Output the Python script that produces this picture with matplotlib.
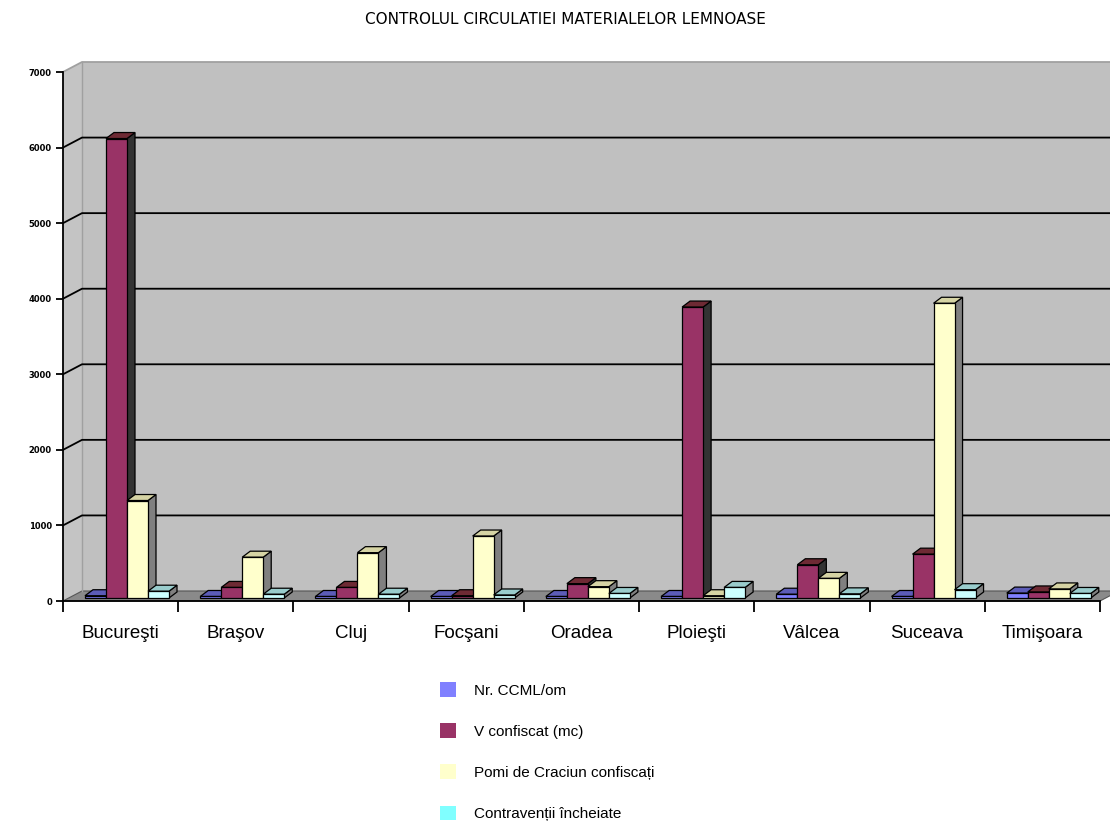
import numpy as np
import matplotlib
matplotlib.use("Agg")
from matplotlib import pyplot as plt
from matplotlib.patches import Patch, Polygon

plt.rcParams['font.family'] = ['Liberation Sans', 'DejaVu Sans']

title = "CONTROLUL CIRCULATIEI MATERIALELOR LEMNOASE"
cats = ["Bucureşti", "Braşov", "Cluj", "Focşani", "Oradea",
        "Ploieşti", "Vâlcea", "Suceava", "Timişoara"]
nr_ccml = [30, 20, 20, 20, 20, 20, 50, 20, 65]
v_confiscat = [6080, 140, 140, 30, 190, 3850, 440, 580, 80]
pomi = [1290, 540, 600, 820, 150, 30, 260, 3900, 120]
contraventii = [90, 50, 50, 40, 60, 140, 55, 110, 60]
labels = ["Nr. CCML/om", "V confiscat (mc)",
          "Pomi de Craciun confiscați", "Contravenții încheiate"]
yticks = [0, 1000, 2000, 3000, 4000, 5000, 6000, 7000]

series = [nr_ccml, v_confiscat, pomi, contraventii]
front = ["#8080ff", "#993366", "#ffffcc", "#ccffff"]
top_c = ["#5c5cb8", "#6e2a34", "#d6d4a4", "#99cccc"]
side_c = ["#303060", "#333333", "#808080", "#808080"]
legend_c = ["#8080ff", "#993366", "#ffffcc", "#80ffff"]

W, H = 1110, 821
fig = plt.figure(figsize=(W / 100, H / 100), dpi=100)
# plot area in pixels: x 63..1100, y 601 (0) .. 72 (7000)
ax = fig.add_axes([63 / W, (H - 601) / H, 1037 / W, 529 / H])
ax.set_xlim(0, len(cats))
ax.set_ylim(0, 7000)
ax.set_facecolor("none")

pxx = len(cats) / 1037
pxy = 7000 / 529
DX, DY = 19 * pxx, 10 * pxy      # wall depth
bdx, bdy = 8 * pxx, 6 * pxy      # bar depth
bw = 21 * pxx
base = 3 * pxy

# walls and floor
ncat = len(cats)
ax.add_patch(Polygon([(DX, DY), (ncat + DX + 1, DY), (ncat + DX + 1, 7000 + DY), (DX, 7000 + DY)],
                     closed=True, fc="#c0c0c0", ec="none", zorder=0, clip_on=False))
ax.add_patch(Polygon([(0, 0), (DX, DY), (DX, 7000 + DY), (0, 7000)],
                     closed=True, fc="#c4c4c4", ec="none", zorder=0, clip_on=False))
ax.add_patch(Polygon([(0, 0), (ncat, 0), (ncat + DX, DY), (DX, DY)],
                     closed=True, fc="#8a8a8a", ec="#555555", lw=0.8, zorder=1, clip_on=False))
ax.plot([DX, DX], [DY, 7000 + DY], color="#a0a0a0", lw=1, zorder=1, clip_on=False)
for v in yticks[1:]:
    col = "#a0a0a0" if v == 7000 else "black"
    ax.plot([0, DX, ncat + DX + 1], [v, v + DY, v + DY], color=col, lw=1.3,
            zorder=1, clip_on=False)

# bars, drawn left to right so that each one hides the side of the previous
z = 5
for c in range(ncat):
    for s, vals in enumerate(series):
        left = c + (22 + s * 21) * pxx
        topv = base + vals[c]
        ax.add_patch(Polygon([(left + bw, base), (left + bw + bdx, base + bdy),
                              (left + bw + bdx, topv + bdy), (left + bw, topv)],
                             closed=True, fc=side_c[s], ec="black", lw=0.9, zorder=z))
        ax.add_patch(Polygon([(left, topv), (left + bw, topv),
                              (left + bw + bdx, topv + bdy), (left + bdx, topv + bdy)],
                             closed=True, fc=top_c[s], ec="black", lw=0.9, zorder=z))
        b = ax.bar(left, vals[c], width=bw, bottom=base, align="edge",
                   color=front[s], edgecolor="black", linewidth=0.9)
        b[0].set_zorder(z + 1)
        z += 2

# axes
for sp in ["top", "right"]:
    ax.spines[sp].set_visible(False)
ax.spines["left"].set_linewidth(1.3)
ax.spines["bottom"].set_linewidth(1.3)
ax.spines["left"].set_zorder(200)
ax.spines["bottom"].set_zorder(200)
ax.set_yticks(yticks)
ax.set_yticklabels([str(v) for v in yticks], fontsize=6, fontweight="bold",
                   family="DejaVu Sans")
ax.tick_params(axis="y", length=5, width=1.3, pad=3)
ax.set_xticks(np.arange(ncat + 1))
ax.set_xticklabels([])
ax.tick_params(axis="x", which="major", length=8, width=1.3)
ax.set_xticks(np.arange(ncat) + 0.5, minor=True)
ax.set_xticklabels(cats, minor=True, fontsize=13.5)
ax.tick_params(axis="x", which="minor", length=0, pad=17)

fig.text(565 / W, 1 - 19 / H, title, ha="center", va="center", fontsize=11,
         family="DejaVu Sans")

handles = [Patch(facecolor=legend_c[i], edgecolor="none") for i in range(4)]
fig.legend(handles, labels, loc="upper left", bbox_to_anchor=(440 / W, 1 - 682 / H),
           frameon=False, fontsize=11, handlelength=1.05, handleheight=1.1,
           handletextpad=1.2, labelspacing=1.68, borderpad=0, borderaxespad=0)

fig.savefig("out.png", dpi=100)
